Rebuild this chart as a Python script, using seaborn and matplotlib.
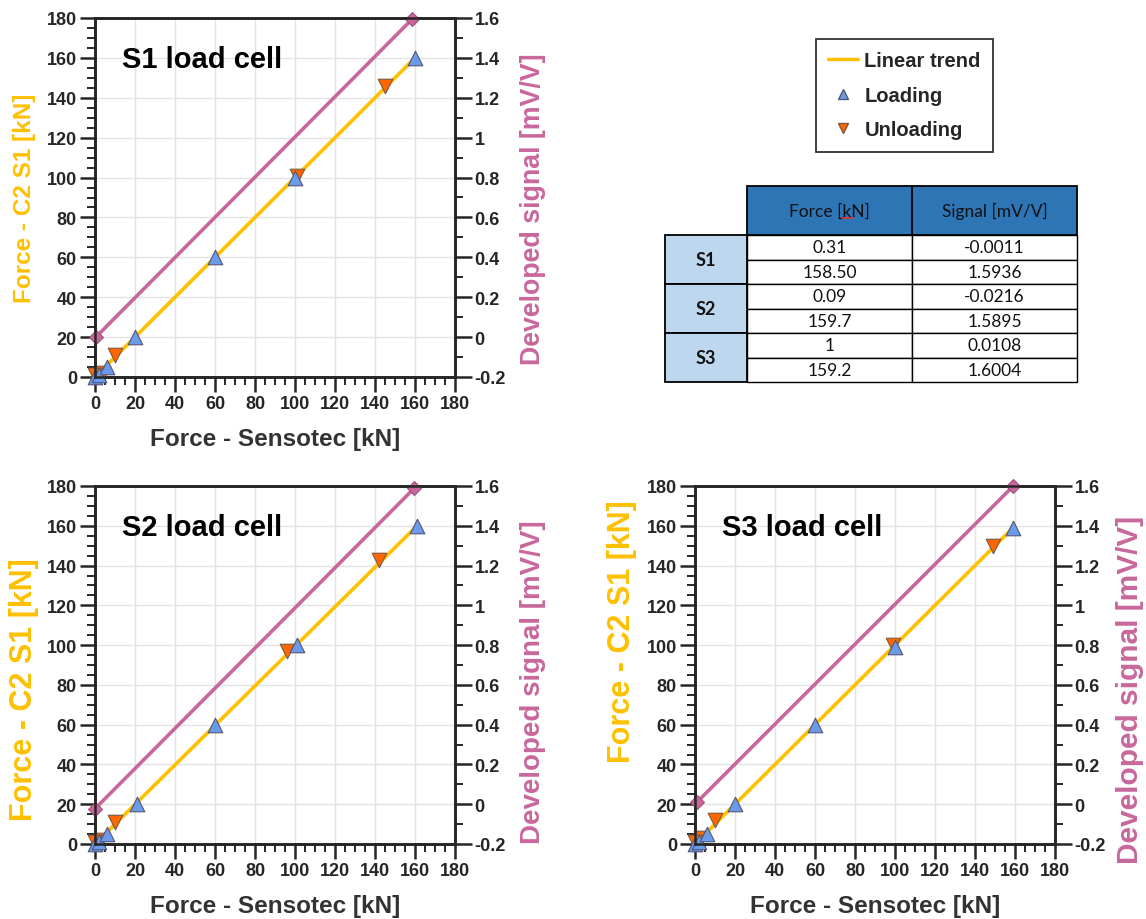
import matplotlib
matplotlib.use("Agg")
import matplotlib.pyplot as plt
from matplotlib.lines import Line2D
from matplotlib.patches import Rectangle
from matplotlib.ticker import MultipleLocator, FuncFormatter
import seaborn as sns
import pandas as pd

sns.set_style("white")
plt.rcParams['font.family'] = ['Liberation Sans', 'DejaVu Sans']

# ---------------- data ----------------
cells = ["S1", "S2", "S3"]

s1_load_x = [0, 2, 6, 20, 60, 100, 160]
s1_load_y = [0, 1, 5, 20, 60, 100, 160]
s1_unload_x = [145, 101, 10, 4, 0]
s1_unload_y = [146, 101, 11, 2, 1]

s2_load_x = [0, 2, 6, 21, 60, 101, 161]
s2_load_y = [0, 1, 5, 20, 60, 100, 160]
s2_unload_x = [142, 96, 10, 3, 0]
s2_unload_y = [143, 97, 11, 2, 1]

s3_load_x = [0, 2, 6, 20, 60, 100, 159]
s3_load_y = [0, 1, 5, 20, 60, 99, 159]
s3_unload_x = [149, 99, 10, 3, 0]
s3_unload_y = [150, 100, 12, 3, 1]

trend_x = {"S1": [0, 160], "S2": [0, 161], "S3": [0, 159]}
trend_y = {"S1": [0, 160], "S2": [0, 160], "S3": [0, 159]}

# table values (force kN, signal mV/V) used for the signal line
table_force = ["0.31", "158.50", "0.09", "159.7", "1", "159.2"]
table_signal = ["-0.0011", "1.5936", "-0.0216", "1.5895", "0.0108", "1.6004"]

load_x = {"S1": s1_load_x, "S2": s2_load_x, "S3": s3_load_x}
load_y = {"S1": s1_load_y, "S2": s2_load_y, "S3": s3_load_y}
unload_x = {"S1": s1_unload_x, "S2": s2_unload_x, "S3": s3_unload_x}
unload_y = {"S1": s1_unload_y, "S2": s2_unload_y, "S3": s3_unload_y}

YELLOW = "#FFC000"
PINK = "#C8679B"
BLUE = "#6A9BEA"
ORANGE = "#FF6600"

W, H = 1146, 920
fig = plt.figure(figsize=(W / 100, H / 100), dpi=100)


def px_axes(x0, y0, x1, y1):
    return fig.add_axes([x0 / W, 1 - y1 / H, (x1 - x0) / W, (y1 - y0) / H])


positions = {"S1": (95, 19, 455, 378), "S2": (95, 487, 455, 845), "S3": (695, 487, 1055, 845)}
# y-label style per chart: (size, x, y) in axes fraction
left_lab = {"S1": (17.5, -0.197, 0.5), "S2": (22, -0.197, 0.433), "S3": (22, -0.203, 0.595)}
right_lab = {"S1": (19.3, 1.217, 0.47), "S2": (20, 1.217, 0.455), "S3": (21.5, 1.208, 0.433)}

for i, c in enumerate(cells):
    ax = px_axes(*positions[c])
    ax.set_xlim(0, 180)
    ax.set_ylim(0, 180)
    ax.xaxis.set_major_locator(MultipleLocator(20))
    ax.xaxis.set_minor_locator(MultipleLocator(5))
    ax.yaxis.set_major_locator(MultipleLocator(20))
    ax.yaxis.set_minor_locator(MultipleLocator(5))
    ax.grid(True, which="major", color="#E3E3E3", lw=1)
    ax.set_axisbelow(True)
    for s in ax.spines.values():
        s.set_color("black")
        s.set_linewidth(1.8)
    ax.tick_params(which="major", direction="out", length=11, width=1.8, labelsize=13, pad=2)
    ax.tick_params(which="minor", direction="out", length=6, width=1.4)
    ax.tick_params(axis="x", which="both", top=False, bottom=True)
    ax.tick_params(axis="y", which="both", left=True, right=False)
    for lab in ax.get_xticklabels() + ax.get_yticklabels():
        lab.set_fontweight("bold")

    ax2 = ax.twinx()
    ax2.set_ylim(-0.2, 1.6)
    ax2.yaxis.set_major_locator(MultipleLocator(0.2))
    ax2.yaxis.set_minor_locator(MultipleLocator(0.1))
    ax2.yaxis.set_major_formatter(FuncFormatter(lambda v, p: "0" if abs(v) < 1e-9 else "%g" % round(v, 2)))
    ax2.tick_params(which="major", direction="out", length=12, width=1.8, labelsize=13, pad=2)
    ax2.tick_params(which="minor", direction="out", length=6, width=1.4)
    for s in ax2.spines.values():
        s.set_linewidth(1.8)
    ax2.grid(False)

    # trend line
    tdf = pd.DataFrame({"x": trend_x[c], "y": trend_y[c]})
    sns.lineplot(data=tdf, x="x", y="y", ax=ax, color=YELLOW, lw=2.6, zorder=2)
    udf = pd.DataFrame({"x": unload_x[c], "y": unload_y[c]})
    sns.scatterplot(data=udf, x="x", y="y", ax=ax, marker="v", s=110, color=ORANGE,
                    edgecolor="#7a5a40", linewidth=0.8, zorder=3, clip_on=False)
    ldf = pd.DataFrame({"x": load_x[c], "y": load_y[c]})
    sns.scatterplot(data=ldf, x="x", y="y", ax=ax, marker="^", s=110, color=BLUE,
                    edgecolor="#555577", linewidth=0.8, zorder=4, clip_on=False)

    sdf = pd.DataFrame({"x": [float(v) for v in table_force[2 * i:2 * i + 2]],
                        "y": [float(v) for v in table_signal[2 * i:2 * i + 2]]})
    sns.lineplot(data=sdf, x="x", y="y", ax=ax2, color=PINK, lw=2.6, marker="D",
                 markersize=7, markeredgecolor="#A04C7A", clip_on=False)
    ax2.set_ylim(-0.2, 1.6)
    ax.set_xlim(0, 180)
    ax.set_ylim(0, 180)
    for lab in ax2.get_yticklabels():
        lab.set_fontweight("bold")

    ax.set_xlabel("Force - Sensotec [kN]", fontsize=17.5, fontweight="bold", color="#333333", labelpad=11)
    fs, lx, ly = left_lab[c]
    ax.set_ylabel("Force - C2 S1 [kN]", fontsize=fs, fontweight="bold", color=YELLOW)
    ax.yaxis.set_label_coords(lx, ly)
    ax.yaxis.label.set_va("center")
    fs, rx, ry = right_lab[c]
    ax2.set_ylabel("Developed signal [mV/V]", fontsize=fs, fontweight="bold", color=PINK)
    ax2.yaxis.set_label_coords(rx, ry)
    ax2.yaxis.label.set_va("center")
    ax.text(0.075, 0.885, f"{c} load cell", transform=ax.transAxes, fontsize=21,
            fontweight="bold", color="black", va="center", ha="left")

# ---------------- legend ----------------
handles = [Line2D([0], [0], color=YELLOW, lw=2.5),
           Line2D([0], [0], marker="^", color="none", markerfacecolor=BLUE,
                  markeredgecolor="#555577", markersize=7),
           Line2D([0], [0], marker="v", color="none", markerfacecolor=ORANGE,
                  markeredgecolor="#7a5a40", markersize=7)]
leg = fig.legend(handles, ["Linear trend", "Loading", "Unloading"],
                 loc="upper left", bbox_to_anchor=(816 / W, 1 - 40 / H), borderaxespad=0,
                 prop={"family": "Liberation Sans", "weight": "bold", "size": 14.5},
                 frameon=True, fancybox=False, edgecolor="black", handlelength=1.5,
                 labelspacing=0.78, borderpad=0.6, handletextpad=0.3)
leg.get_frame().set_linewidth(1.3)

# ---------------- table ----------------
tax = fig.add_axes([0, 0, 1, 1])
tax.set_xlim(0, W)
tax.set_ylim(H, 0)
tax.axis("off")

col_x = [665, 747, 912, 1077]
hdr_top, hdr_bot = 187, 236
row_h = (383 - 236) / 6
tfont = {"family": "Lato", "size": 12.5}

tax.add_patch(Rectangle((col_x[1], hdr_top), col_x[3] - col_x[1], hdr_bot - hdr_top,
                        facecolor="#2E75B6", edgecolor="black", lw=1.3))
tax.plot([col_x[2], col_x[2]], [hdr_top, hdr_bot], color="black", lw=1.3)
tax.text((col_x[1] + col_x[2]) / 2, (hdr_top + hdr_bot) / 2, "Force [kN]", ha="center",
         va="center", color="#111111", **tfont)
tax.plot([841, 853], [219, 219], color="#E03030", lw=1.2)
tax.text((col_x[2] + col_x[3]) / 2, (hdr_top + hdr_bot) / 2, "Signal [mV/V]", ha="center",
         va="center", color="#111111", **tfont)

for i, c in enumerate(cells):
    y0 = hdr_bot + 2 * i * row_h
    tax.add_patch(Rectangle((col_x[0], y0), col_x[1] - col_x[0], 2 * row_h,
                            facecolor="#BDD7EE", edgecolor="black", lw=1.3))
    tax.text((col_x[0] + col_x[1]) / 2, y0 + row_h, c, ha="center", va="center",
             fontweight="bold", color="#111111", family="Lato", size=13)
    for j in range(2):
        yy = y0 + j * row_h
        for k, vals in enumerate([table_force, table_signal]):
            tax.add_patch(Rectangle((col_x[1 + k], yy), col_x[2 + k] - col_x[1 + k], row_h,
                                    facecolor="white", edgecolor="black", lw=1.0))
            tax.text((col_x[1 + k] + col_x[2 + k]) / 2, yy + row_h / 2, vals[2 * i + j],
                     ha="center", va="center", color="#111111", **tfont)

fig.savefig("out.png", dpi=100)
